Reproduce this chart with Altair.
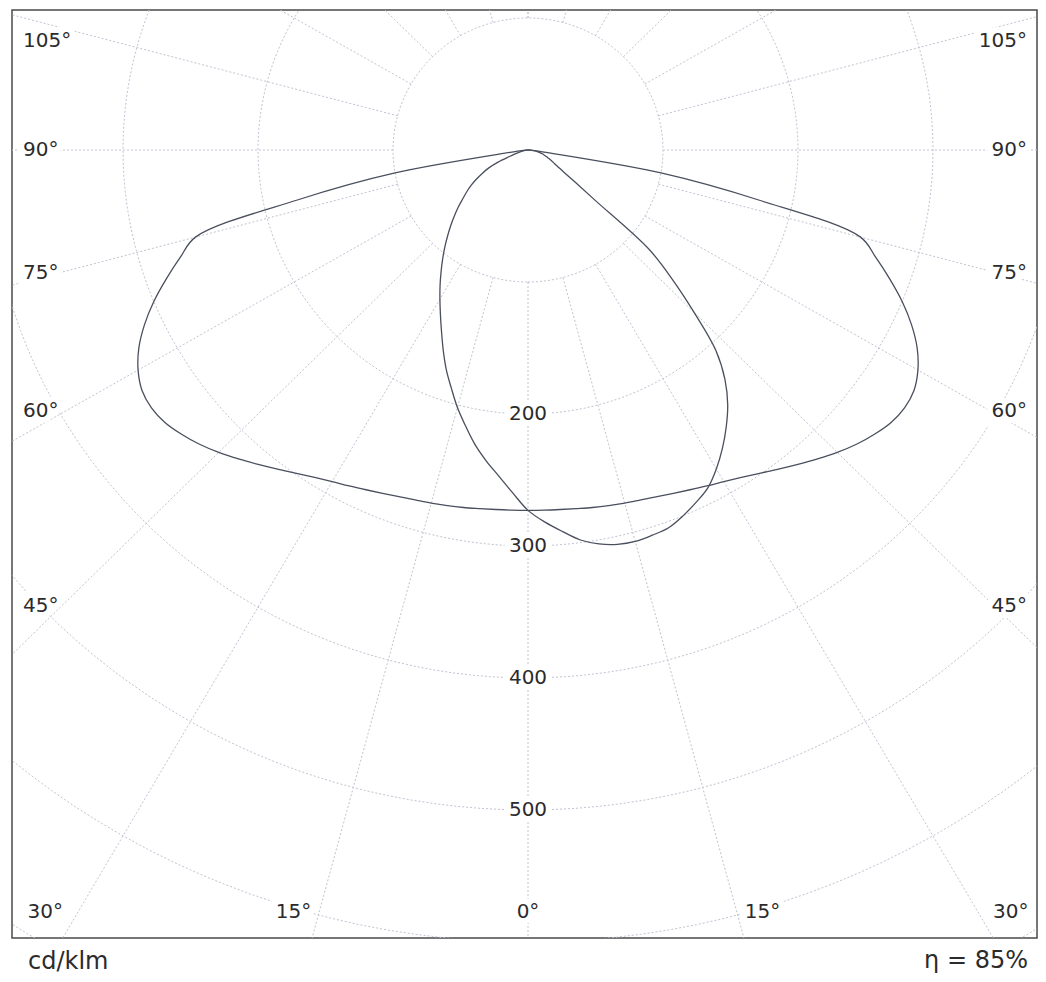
import math
import altair as alt
import pandas as pd

# ---------------- data (cd/klm) ----------------
GAMMA = [0, 2.5, 5, 7.5, 10, 12.5, 15, 17.5, 20, 22.5, 25, 27.5, 30, 32.5, 35,
         37.5, 40, 42.5, 45, 47.5, 50, 52.5, 55, 57.5, 60, 62.5, 65, 67.5, 70,
         72.5, 75, 77.5, 80, 82.5, 85, 87.5, 90]

# C0 - C180 plane (symmetric, wide distribution)
C0_C180 = [273, 273.1, 273.4, 274, 275, 276, 277, 278, 279.5, 281.5, 284, 286.9,
           290.1, 294.1, 299, 304.8, 311, 317.5, 324, 330, 335, 339, 340.5, 339,
           333.5, 325, 313.5, 300, 285, 270, 255, 175, 100, 12, 5, 2, 0]

# C90 plane (right half of the narrow distribution)
C90 = [273, 282, 290, 298, 303, 306, 307, 306, 304.5, 300, 294.5, 288.5, 279, 268,
       256, 243, 227, 206, 174, 145, 117, 63, 43, 32, 26, 22, 19, 16.5, 14.5, 12.5,
       11, 9, 7, 5, 3, 1.5, 0]

# C270 plane (left half of the narrow distribution)
C270 = [273, 260, 248, 237.5, 226.5, 214, 202, 189, 177, 164.1, 151.6, 140.5, 130.5,
        121.2, 112.2, 103.8, 95.8, 88.1, 80.9, 74, 67.5, 61, 55.5, 50, 44, 38, 32,
        24, 15, 10, 7, 5, 3.5, 2, 1, 0.5, 0]

RINGS = [100, 200, 300, 400, 500, 600, 700]
RING_LABELS = [200, 300, 400, 500]
SPOKES = list(range(-180, 181, 15))
SIDE_LABELS = [45, 60, 75, 90, 105]
BOTTOM_LABELS = [15, 30]
UNIT_TEXT = "cd/klm"
ETA_TEXT = "η = 85%"

# ---------------- layout ----------------
W, H = 1025, 928
SX, SY = 1.35, 1.32           # px per cd/klm
CX, CY = 516, 140             # pole position inside the plot area (px)
XDOM = [-CX / SX, (W - CX) / SX]
YDOM = [-(H - CY) / SY, CY / SY]

FONT = "DejaVu Sans"
TXT = "#2b2b2b"
GRID = "#c2c2d2"
CURVE = "#4a4f5e"

xs = alt.Scale(domain=XDOM, nice=False, zero=False)
ys = alt.Scale(domain=YDOM, nice=False, zero=False)

# curves table
rows = []
for plane, left, right in [("C0-C180", C0_C180, C0_C180), ("C90-C270", C270, C90)]:
    k = 0
    for g, v in reversed(list(zip(GAMMA, left))):
        rows.append({"plane": plane, "k": k, "a": -g, "I": v}); k += 1
    for g, v in list(zip(GAMMA, right))[1:]:
        rows.append({"plane": plane, "k": k, "a": g, "I": v}); k += 1
curves_df = pd.DataFrame(rows)

ring_rows = []
for r in RINGS:
    for i, t in enumerate(range(0, 362, 2)):
        ring_rows.append({"ring": r, "k": i, "a": t, "I": r})
rings_df = pd.DataFrame(ring_rows)

spokes_df = pd.DataFrame({"a": SPOKES})

polar_x = "datum.I*sin(datum.a*PI/180)"
polar_y = "-datum.I*cos(datum.a*PI/180)"

rings = alt.Chart(rings_df).transform_calculate(x=polar_x, y=polar_y).mark_line(
    color=GRID, strokeWidth=1, strokeDash=[2, 2], clip=True
).encode(
    x=alt.X("x:Q", scale=xs, axis=None),
    y=alt.Y("y:Q", scale=ys, axis=None),
    detail="ring:N", order="k:Q",
)

spokes = alt.Chart(spokes_df).transform_calculate(
    x1="100*sin(datum.a*PI/180)", y1="-100*cos(datum.a*PI/180)",
    x2="1500*sin(datum.a*PI/180)", y2="-1500*cos(datum.a*PI/180)",
).mark_rule(color=GRID, strokeWidth=1, strokeDash=[2, 2], clip=True).encode(
    x=alt.X("x1:Q", scale=xs, axis=None), y=alt.Y("y1:Q", scale=ys, axis=None),
    x2="x2:Q", y2="y2:Q",
)

curves = alt.Chart(curves_df).transform_calculate(x=polar_x, y=polar_y).mark_line(
    color=CURVE, strokeWidth=1.3, interpolate="catmull-rom", clip=True
).encode(
    x=alt.X("x:Q", scale=xs, axis=None),
    y=alt.Y("y:Q", scale=ys, axis=None),
    detail="plane:N", order="k:Q",
)


def labels(df, align, baseline="middle", size=20):
    base = alt.Chart(df).encode(
        x=alt.X("x:Q", scale=xs, axis=None),
        y=alt.Y("y:Q", scale=ys, axis=None),
        text="t:N",
    )
    halo = base.mark_text(font=FONT, fontSize=size, align=align, baseline=baseline,
                          color="white", stroke="white", strokeWidth=12)
    txt = base.mark_text(font=FONT, fontSize=size, align=align, baseline=baseline,
                         color=TXT)
    return [halo, txt]


# ring labels along the 0 deg spoke
ring_lab = pd.DataFrame({"x": [0.0] * len(RING_LABELS),
                         "y": [-float(r) for r in RING_LABELS],
                         "t": [str(r) for r in RING_LABELS]})


# side labels: sit on their spoke near the frame
def side_shift(g):
    if g < 70:
        return 4 / SY
    if g > 90:
        return -14 / SY
    return 0.0


inset = 470 / SX
side_y = [(-inset / math.tan(math.radians(g)) if g != 90 else 0.0) + side_shift(g)
          for g in SIDE_LABELS]
left_side = pd.DataFrame({"x": [XDOM[0] + 11 / SX] * len(SIDE_LABELS),
                          "y": side_y, "t": [f"{g}°" for g in SIDE_LABELS]})
right_side = pd.DataFrame({"x": [XDOM[1] - 10 / SX] * len(SIDE_LABELS),
                           "y": side_y, "t": [f"{g}°" for g in SIDE_LABELS]})

# bottom labels: beside the point where their spoke crosses the bottom band
yb = -(H - 26 - CY) / SY
gap = [(8 if g < 20 else 15) / SX for g in BOTTOM_LABELS]
bot_left = pd.DataFrame({"x": [yb * math.tan(math.radians(g)) - d
                               for g, d in zip(BOTTOM_LABELS, gap)],
                         "y": [yb] * len(BOTTOM_LABELS),
                         "t": [f"{g}°" for g in BOTTOM_LABELS]})
bot_right = pd.DataFrame({"x": [-yb * math.tan(math.radians(g)) + d
                                for g, d in zip(BOTTOM_LABELS, gap)],
                          "y": [yb] * len(BOTTOM_LABELS),
                          "t": [f"{g}°" for g in BOTTOM_LABELS]})
bot_mid = pd.DataFrame({"x": [0.0], "y": [yb], "t": ["0°"]})

layers = [rings, spokes]
layers += labels(ring_lab, "center")
layers += labels(left_side, "left")
layers += labels(right_side, "right")
layers += labels(bot_left, "right")
layers += labels(bot_right, "left")
layers += labels(bot_mid, "center")
layers.append(curves)

foot = pd.DataFrame({"t": [UNIT_TEXT]})
foot2 = pd.DataFrame({"t": [ETA_TEXT]})
unit = alt.Chart(foot).mark_text(font=FONT, fontSize=24, align="left",
                                 baseline="alphabetic", color=TXT).encode(
    x=alt.value(16), y=alt.value(H + 31), text="t:N")
eta = alt.Chart(foot2).mark_text(font=FONT, fontSize=24, align="right",
                                 baseline="alphabetic", color=TXT).encode(
    x=alt.value(1016), y=alt.value(H + 30), text="t:N")
layers += [unit, eta]

chart = alt.layer(*layers).properties(
    width=W, height=H,
    autosize=alt.AutoSizeParams(type="none"),
    padding={"left": 4, "top": 2, "right": 1, "bottom": 36},
    background="white",
).configure_view(stroke="#4a4a4a", strokeWidth=1.5)

chart.save("out.html", embed_options={"renderer": "svg", "actions": False})
